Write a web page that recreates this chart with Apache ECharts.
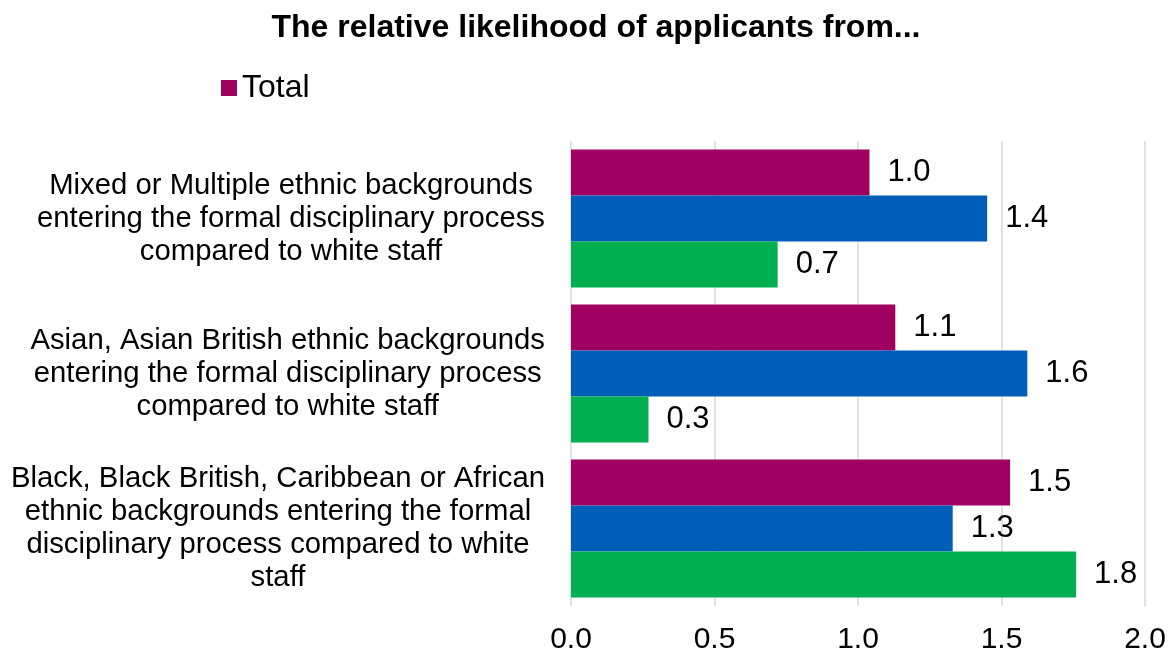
<!DOCTYPE html>
<html>
<head>
<meta charset="utf-8">
<script src="https://cdn.jsdelivr.net/npm/echarts@6/dist/echarts.min.js"></script>
<style>
html,body{margin:0;padding:0;background:#fff;}
#chart{width:1175px;height:659px;}
</style>
</head>
<body>
<div id="chart"></div>
<script>
var titleText = 'The relative likelihood of applicants from...';
var categories = [
  'Mixed or Multiple ethnic backgrounds\nentering the formal disciplinary process\ncompared to white staff',
  'Asian, Asian British ethnic backgrounds\nentering the formal disciplinary process\ncompared to white staff',
  'Black, Black British, Caribbean or African\nethnic backgrounds entering the formal\ndisciplinary process compared to white\nstaff'
];
var seriesNames = ['Total', 'Series 2', 'Series 3'];
var totalValues = [1.04, 1.13, 1.53];
var series2Values = [1.45, 1.59, 1.33];
var series3Values = [0.72, 0.27, 1.76];
var xTicks = [0, 0.5, 1.0, 1.5, 2.0];
var colors = ['#A00060', '#005EB8', '#00B050'];

var FONT = '"Liberation Sans", Arial, sans-serif';
var chart = echarts.init(document.getElementById('chart'), null, {renderer: 'canvas'});

function mkSeries(name, data, color) {
  return {
    name: name,
    type: 'bar',
    data: data,
    barWidth: 46,
    barGap: '0%',
    itemStyle: {color: color},
    label: {
      show: true,
      position: 'right',
      distance: 18,
      fontFamily: FONT,
      fontSize: 31,
      color: '#000',
      formatter: function (p) { return p.value.toFixed(1); }
    }
  };
}

chart.setOption({
  animation: false,
  backgroundColor: '#fff',
  title: {
    text: titleText,
    left: 591,
    textAlign: 'center',
    top: 7,
    textStyle: {fontFamily: FONT, fontSize: 32, fontWeight: 'bold', color: '#000'}
  },
  legend: {
    data: [seriesNames[0]],
    left: 216,
    top: 67,
    icon: 'rect',
    itemWidth: 16,
    itemHeight: 16,
    itemGap: 20,
    textStyle: {fontFamily: FONT, fontSize: 32, color: '#000'}
  },
  grid: {left: 571, right: 30, top: 141, bottom: 53, containLabel: false},
  xAxis: {
    type: 'value',
    min: xTicks[0],
    max: xTicks[xTicks.length - 1],
    interval: 0.5,
    axisLine: {show: false},
    axisTick: {show: false},
    splitLine: {show: true, lineStyle: {color: '#d9d9d9', width: 1.5}},
    axisLabel: {
      fontFamily: FONT, fontSize: 30, color: '#000', margin: 19,
      formatter: function (v) { return v.toFixed(1); }
    }
  },
  yAxis: {
    type: 'category',
    inverse: true,
    data: categories,
    axisLine: {show: false},
    axisTick: {show: false},
    axisLabel: {
      margin: 26,
      align: 'right',
      formatter: function (v) {
        return v.split('\n').map(function (l) { return '{c|' + l + '}'; }).join('\n');
      },
      rich: {
        c: {align: 'center', fontFamily: FONT, fontSize: 29.3, lineHeight: 33, color: '#000'}
      }
    }
  },
  series: [
    mkSeries(seriesNames[0], totalValues, colors[0]),
    mkSeries(seriesNames[1], series2Values, colors[1]),
    mkSeries(seriesNames[2], series3Values, colors[2])
  ]
});
</script>
</body>
</html>
